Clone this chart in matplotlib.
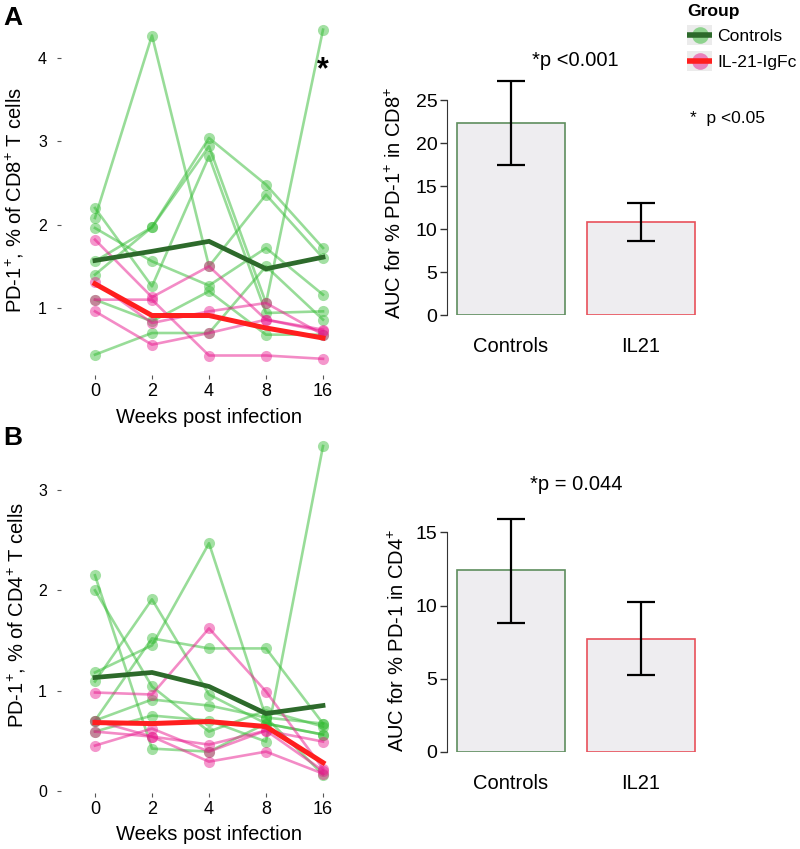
import numpy as np
import matplotlib
matplotlib.use("Agg")
import matplotlib.pyplot as plt
from matplotlib.patches import Rectangle
from matplotlib.lines import Line2D
from matplotlib.legend_handler import HandlerBase

plt.rcParams['font.family'] = ['Liberation Sans', 'DejaVu Sans']
plt.rcParams['mathtext.fontset'] = 'custom'
plt.rcParams['mathtext.rm'] = 'Liberation Sans'
plt.rcParams['mathtext.it'] = 'Liberation Sans'
plt.rcParams['mathtext.default'] = 'regular'

# ---------------- data ----------------
weeks = ["0", "2", "4", "8", "16"]

# PD-1+ % of CD8+ T cells, individual animals
cd8_controls = [
    [2.08, 4.27, 1.50, 2.36, 1.60],
    [1.56, 1.97, 3.04, 2.48, 1.72],
    [1.40, 1.97, 2.94, 1.06, 4.34],
    [2.20, 1.26, 2.82, 0.94, 0.96],
    [1.96, 1.56, 1.27, 1.72, 1.16],
    [0.44, 0.70, 0.70, 1.50, 0.86],
    [1.10, 0.84, 1.20, 0.68, 0.68],
]
cd8_il21 = [
    [1.82, 1.13, 1.50, 0.86, 0.74],
    [1.31, 0.82, 0.96, 1.06, 0.68],
    [1.10, 1.10, 0.43, 0.43, 0.39],
    [0.96, 0.56, 0.70, 0.86, 0.72],
]
cd8_controls_mean = [1.57, 1.68, 1.80, 1.47, 1.61]
cd8_il21_mean = [1.29, 0.91, 0.91, 0.76, 0.64]

# PD-1+ % of CD4+ T cells, individual animals
cd4_controls = [
    [2.15, 0.42, 0.39, 0.67, 0.56],
    [2.00, 1.04, 0.59, 0.80, 0.64],
    [1.18, 1.45, 2.47, 0.73, 0.67],
    [1.09, 1.91, 0.96, 0.67, 0.56],
    [0.70, 1.52, 1.42, 1.42, 0.67],
    [0.59, 0.75, 0.70, 0.49, 3.44],
    [0.70, 0.91, 0.85, 0.73, 0.16],
]
cd4_il21 = [
    [0.98, 0.96, 1.62, 0.99, 0.22],
    [0.70, 0.54, 0.46, 0.60, 0.49],
    [0.59, 0.54, 0.29, 0.39, 0.17],
    [0.45, 0.62, 0.39, 0.60, 0.20],
]
cd4_controls_mean = [1.13, 1.18, 1.04, 0.77, 0.85]
cd4_il21_mean = [0.68, 0.67, 0.69, 0.64, 0.28]

bar_groups = ["Controls", "IL21"]
auc_cd8 = [22.3, 10.8]
auc_cd8_low = [17.4, 8.65]
auc_cd8_high = [27.2, 13.05]
auc_cd4 = [12.4, 7.73]
auc_cd4_low = [8.84, 5.27]
auc_cd4_high = [15.93, 10.23]

# ---------------- style ----------------
W, H = 800, 849
fig = plt.figure(figsize=(W / 100, H / 100), dpi=100)

GREEN_PT = '#33BB33'
PINK_PT = '#E8198E'
GREEN_MEAN = '#2D6A2B'
RED_MEAN = '#FF1E1E'
BAR_FILL = '#EEEDF0'
BAR_EDGE = ['#5E8E5E', '#E8505A']


def px_axes(l, t, r, b):
    return fig.add_axes([l / W, 1 - b / H, (r - l) / W, (b - t) / H])


def line_panel(ax, ctrl, il21, cmean, imean, ylim, yticks):
    x = np.arange(1, len(weeks) + 1)
    for row in ctrl:
        ax.plot(x, row, color=GREEN_PT, alpha=0.5, lw=1.9, zorder=2)
        ax.plot(x, row, 'o', color=GREEN_PT, alpha=0.45, ms=8, mew=0, zorder=3)
    for row in il21:
        ax.plot(x, row, color=PINK_PT, alpha=0.5, lw=1.9, zorder=4)
        ax.plot(x, row, 'o', color=PINK_PT, alpha=0.45, ms=8, mew=0, zorder=5)
    ax.plot(x, cmean, color=GREEN_MEAN, lw=3.4, zorder=6, solid_joinstyle='miter')
    ax.plot(x, imean, color=RED_MEAN, lw=3.6, zorder=7, solid_joinstyle='miter')
    ax.set_xlim(0.404, 5.596)
    ax.set_ylim(*ylim)
    ax.set_xticks(x)
    ax.set_xticklabels(weeks, fontsize=13)
    ax.set_yticks(yticks)
    ax.set_yticklabels([str(t) for t in yticks], fontsize=11.5)
    for s in ax.spines.values():
        s.set_visible(False)
    ax.tick_params(axis='both', length=3, width=0.8, color='#555555')
    ax.tick_params(axis='y', pad=7)
    ax.tick_params(axis='x', pad=3)
    ax.set_facecolor('none')


def bar_panel(ax, vals, lo, hi, ymax, ybound, yticks):
    x = np.arange(len(bar_groups))
    ax.bar(x, vals, width=0.83, color=BAR_FILL, edgecolor=BAR_EDGE, linewidth=1.2, zorder=2)
    yerr = np.array([np.array(vals) - np.array(lo), np.array(hi) - np.array(vals)])
    ax.errorbar(x, vals, yerr=yerr, fmt='none', ecolor='black', elinewidth=1.6,
                capsize=10, capthick=1.6, zorder=3, clip_on=False)
    ax.set_xlim(-0.492, 1.492)
    ax.set_ylim(0, ymax)
    for k in ['top', 'right', 'bottom']:
        ax.spines[k].set_visible(False)
    ax.spines['left'].set_bounds(0, ybound)
    ax.spines['left'].set_color('#333333')
    ax.set_yticks(yticks)
    ax.set_yticklabels([str(t) for t in yticks], fontsize=14)
    ax.tick_params(axis='y', length=5, width=1, color='#333333', pad=2)
    ax.set_xticks(x)
    ax.set_xticklabels(bar_groups, fontsize=14.5)
    ax.tick_params(axis='x', length=0, pad=16)
    ax.set_facecolor('none')


# ---------------- panels ----------------
ax1 = px_axes(61, 13, 357, 375)
line_panel(ax1, cd8_controls, cd8_il21, cd8_controls_mean, cd8_il21_mean,
           (0.196, 4.54), [1, 2, 3, 4])
ax1.text(5, 3.85, '*', fontsize=22, fontweight='bold', ha='center', va='center')

ax3 = px_axes(61, 430, 357, 793)
line_panel(ax3, cd4_controls, cd4_il21, cd4_controls_mean, cd4_il21_mean,
           (-0.023, 3.6), [0, 1, 2, 3])

ax2 = px_axes(447, 70, 705, 315)
bar_panel(ax2, auc_cd8, auc_cd8_low, auc_cd8_high, 28.5, 25, [0, 5, 10, 15, 20, 25])

ax4 = px_axes(447, 503, 705, 752)
bar_panel(ax4, auc_cd4, auc_cd4_low, auc_cd4_high, 17, 15, [0, 5, 10, 15])


def ftext(x, y, s, **kw):
    return fig.text(x / W, 1 - y / H, s, **kw)


# axis labels
ftext(15, 200, r'PD-1$^{+}$, % of CD8$^{+}$ T cells', rotation=90, ha='center', va='center', fontsize=14.5)
ftext(17, 615, r'PD-1$^{+}$, % of CD4$^{+}$ T cells', rotation=90, ha='center', va='center', fontsize=14.5)
ftext(209, 418, 'Weeks post infection', ha='center', va='center', fontsize=14.5)
ftext(209, 835, 'Weeks post infection', ha='center', va='center', fontsize=14.5)
ftext(395, 203, r'AUC for % PD-1$^{+}$ in CD8$^{+}$', rotation=90, ha='center', va='center', fontsize=14.5)
ftext(398, 640, r'AUC for % PD-1 in CD4$^{+}$', rotation=90, ha='center', va='center', fontsize=14.5)

# panel letters
ftext(3, 18, 'A', fontsize=19, fontweight='bold', ha='left', va='center')
ftext(3, 438, 'B', fontsize=19, fontweight='bold', ha='left', va='center')

# p-values
ftext(575, 60, '*p <0.001', ha='center', va='center', fontsize=14.5)
ftext(576, 485, '*p = 0.044', ha='center', va='center', fontsize=14.5)
ftext(690, 118, '*  p <0.05', ha='left', va='center', fontsize=12.5)


# legend
class KeyHandler(HandlerBase):
    def __init__(self, pt_color, line_color):
        super().__init__()
        self.pt_color = pt_color
        self.line_color = line_color

    def create_artists(self, legend, orig_handle, xdescent, ydescent, width, height, fontsize, trans):
        bg = Rectangle((-xdescent, -ydescent), width, height, facecolor='#EBEBEB',
                       edgecolor='none', transform=trans)
        cy = -ydescent + height / 2
        cx = -xdescent + width / 2
        pt = Line2D([cx], [cy], marker='o', ms=12, color=self.pt_color, alpha=0.5,
                    mew=0, ls='none', transform=trans)
        ln = Line2D([-xdescent, -xdescent + width], [cy, cy], color=self.line_color, lw=4,
                    solid_capstyle='butt', transform=trans)
        return [bg, pt, ln]


h1 = Line2D([], [], color=GREEN_MEAN)
h2 = Line2D([], [], color=RED_MEAN)
leg = fig.legend([h1, h2], ['Controls', 'IL-21-IgFc'],
                 handler_map={h1: KeyHandler(GREEN_PT, GREEN_MEAN), h2: KeyHandler(PINK_PT, RED_MEAN)},
                 loc='upper left', bbox_to_anchor=(683 / W, 1 - 0 / H), frameon=False,
                 fontsize=12.6, title='Group', title_fontproperties={'weight': 'bold', 'size': 12.6},
                 handlelength=1.4, handleheight=1.45, handletextpad=0.3, labelspacing=0.3,
                 borderpad=0.25, borderaxespad=0)
leg._legend_box.align = 'left'

fig.savefig('out.png', dpi=100)
